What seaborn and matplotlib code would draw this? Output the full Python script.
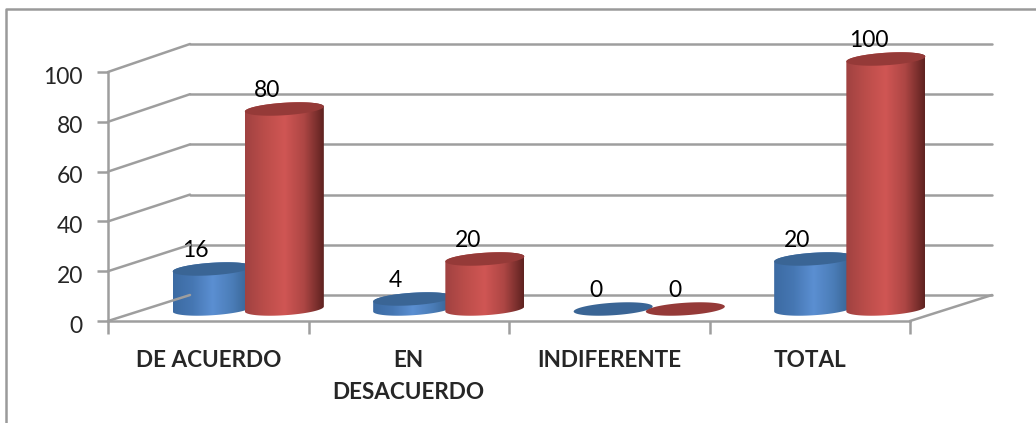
#!/usr/bin/env python3

import numpy as np
import pandas as pd
import matplotlib
matplotlib.use("Agg")
import matplotlib.pyplot as plt
from matplotlib.colors import LinearSegmentedColormap
from matplotlib.lines import Line2D
from matplotlib.patches import ConnectionPatch, PathPatch, Polygon
from matplotlib.path import Path
from matplotlib.transforms import Affine2D
import seaborn as sns

categories = ["DE ACUERDO", "EN\nDESACUERDO", "INDIFERENTE", "TOTAL"]
frecuencia = [16, 4, 0, 20]
porcentaje = [80, 20, 0, 100]
y_ticks = [0, 20, 40, 60, 80, 100]

W, H = 1036, 423
GRID = "#9e9e9e"
LW = 1.8

sns.set_style("white")
plt.rcParams["font.family"] = ["Lato", "DejaVu Sans"]

# the fake 3d look is three stacked axes: back wall, front plane, bars
fig = plt.figure(figsize=(W / 100, H / 100), dpi=100)


def px_axes(left, top, right, bottom):
    ax = fig.add_axes([left / W, 1 - bottom / H, (right - left) / W, (bottom - top) / H])
    ax.set_xlim(-0.5, 3.5)
    ax.set_ylim(0, 100)
    ax.patch.set_alpha(0)
    return ax


ax_back = px_axes(190, 44, 992, 295)
ax_front = px_axes(108, 72, 910, 321)
ax_bar = px_axes(148, 59, 950, 309)

# outer frame, only top and left show in the picture
fig.add_artist(Line2D([6 / W, 6 / W, 1], [0, 1 - 9 / H, 1 - 9 / H], color="#9a9a9a", lw=LW))

# back wall
ax_back.set_yticks(y_ticks)
ax_back.set_xticks([])
ax_back.tick_params(left=False, labelleft=False)
ax_back.grid(axis="y", color=GRID, lw=LW)
for s in ax_back.spines.values():
    s.set_visible(False)
for g in ax_back.get_ygridlines():
    g.set_clip_on(False)

# front plane
ax_front.set_yticks(y_ticks)
ax_front.set_xticks(np.arange(-0.5, 4))
ax_front.set_xticklabels([])
ax_front.set_xticks(range(4), labels=categories, minor=True)
ax_front.tick_params(axis="y", length=8, width=LW, color=GRID, labelsize=16.5, pad=10, left=True)
ax_front.tick_params(axis="x", which="major", length=9, width=LW, color=GRID, bottom=True)
ax_front.tick_params(axis="x", which="minor", length=0, pad=21, labelsize=16.2)
for lab in ax_front.get_xticklabels(minor=True):
    lab.set_fontweight("bold")
    lab.set_linespacing(1.62)
    lab.set_verticalalignment("top")
for lab in ax_front.get_yticklabels():
    # Lato sits a little high against the reference
    lab.set_transform(lab.get_transform() + Affine2D().translate(0, -3))
sns.despine(ax=ax_front)
for side in ["left", "bottom"]:
    ax_front.spines[side].set_color(GRID)
    ax_front.spines[side].set_linewidth(LW)

# side wall and floor edges
for v in y_ticks:
    fig.add_artist(ConnectionPatch((-0.5, v), (-0.5, v), "data", "data", axesA=ax_front, axesB=ax_back,
                                   color=GRID, lw=LW))
fig.add_artist(ConnectionPatch((3.5, 0), (3.5, 0), "data", "data", axesA=ax_front, axesB=ax_back,
                               color=GRID, lw=LW))

# bars
df = pd.DataFrame({
    "categoria": categories * 2,
    "valor": frecuencia + porcentaje,
    "serie": ["Frecuencia"] * 4 + ["Porcentaje"] * 4,
})
sns.barplot(data=df, x="categoria", y="valor", hue="serie", width=0.72, legend=False, ax=ax_bar)
ax_bar.set_xlim(-0.5, 3.5)
ax_bar.set_ylim(0, 100)
ax_bar.axis("off")

cmaps = {
    "Frecuencia": LinearSegmentedColormap.from_list(
        "azul", ["#3c6ba3", "#4677b3", "#5b8fd2", "#4b7db8", "#35608f"]),
    "Porcentaje": LinearSegmentedColormap.from_list(
        "rojo", ["#a04241", "#bb4d4a", "#d05654", "#ad4644", "#5e2220"]),
}
tops = {"Frecuencia": "#3a6595", "Porcentaje": "#953a38"}
gradient = np.linspace(0, 1, 256).reshape(1, -1)
t_top = np.linspace(0, np.pi, 60)
t_low = np.linspace(np.pi, 2 * np.pi, 60)
CYL_W = 0.394  # a bit wider than the slot so neighbours overlap
B, TILT = 2.5, 1.0  # ellipse half height and tilt, in data units

bars = sorted(ax_bar.patches, key=lambda p: p.get_x())
names = ["Frecuencia", "Porcentaje"] * 4
for i, (bar, name) in enumerate(zip(bars, names)):
    bar.set_visible(False)
    cx = bar.get_x() + bar.get_width() / 2
    h = bar.get_height()
    rim = lambda t, y0: np.column_stack([cx + CYL_W / 2 * np.cos(t), y0 + B * np.sin(t) + TILT * np.cos(t)])
    if h > 0:
        body = np.vstack([rim(t_low, 0), rim(t_top, h), rim(t_low[:1], 0)])
        im = ax_bar.imshow(gradient, cmap=cmaps[name], aspect="auto", zorder=10 + 2 * i,
                           extent=(cx - CYL_W / 2, cx + CYL_W / 2, -B - TILT, h + B + TILT))
        clip = PathPatch(Path(body), transform=ax_bar.transData)
        im.set_clip_box(fig.bbox)
        im.set_clip_path(clip)
    ax_bar.add_patch(Polygon(rim(np.linspace(0, 2 * np.pi, 120), h), closed=True, fc=tops[name], ec="none",
                             zorder=11 + 2 * i, clip_on=False))
    dx = -10 if (h == 0 and name == "Porcentaje") else -17
    ax_bar.annotate(f"{h:.0f}", (cx, h), xytext=(dx * 0.72, 19 * 0.72), textcoords="offset points",
                    ha="center", va="center", fontsize=16.5, color="black", zorder=50, annotation_clip=False)
ax_bar.set_xlim(-0.5, 3.5)
ax_bar.set_ylim(0, 100)

fig.savefig("out.png", dpi=100)
